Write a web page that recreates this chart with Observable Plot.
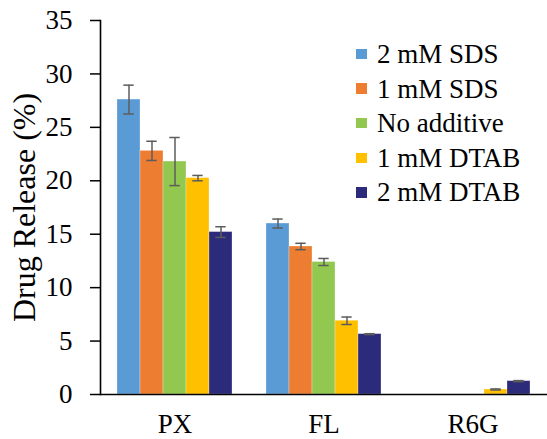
<!DOCTYPE html>
<html>
<head>
<meta charset="utf-8">
<script src="https://cdn.jsdelivr.net/npm/d3@7"></script>
<script src="https://cdn.jsdelivr.net/npm/@observablehq/plot@0.6"></script>
<style>
  body { margin: 0; background: #fff; }
  #wrap { position: relative; width: 547px; height: 439px; font-family: "Liberation Serif", Tinos, "DejaVu Serif", serif; }
  #chart svg { display: block; }
  #chart svg text { font-family: "Liberation Serif", Tinos, "DejaVu Serif", serif; }
  g[aria-label="y-axis label"] text { font-size: 32px; }
  .legend { position: absolute; left: 356px; top: 0; }
  .row { position: absolute; left: 0; height: 30px; line-height: 30px; display: flex; align-items: center; white-space: nowrap; font-size: 27px; color: #000; }
  .sw { width: 10.5px; height: 10.5px; margin-right: 10.5px; flex: none; }
</style>
</head>
<body>
<div id="wrap">
  <div id="chart"></div>
  <div class="legend" id="legend"></div>
</div>
<script>
// ---- data ----
const categories = ["PX", "FL", "R6G"];
const series = ["2 mM SDS", "1 mM SDS", "No additive", "1 mM DTAB", "2 mM DTAB"];
const colors = ["#5B9BD5", "#ED7D31", "#92C84F", "#FFC000", "#2B2A7B"];

const sds2 = [27.6, 16.0, 0];
const sds1 = [22.8, 13.85, 0];
const noAdditive = [21.8, 12.4, 0];
const dtab1 = [20.25, 6.9, 0.47];
const dtab2 = [15.2, 5.65, 1.25];

const sds2Err = [1.35, 0.42, 0];
const sds1Err = [0.9, 0.3, 0];
const noAdditiveErr = [2.25, 0.33, 0];
const dtab1Err = [0.25, 0.35, 0.05];
const dtab2Err = [0.5, 0.04, 0.05];

const yTicks = [0, 5, 10, 15, 20, 25, 30, 35];
const yTitle = "Drug Release (%)";

// ---- table ----
const values = [sds2, sds1, noAdditive, dtab1, dtab2];
const errors = [sds2Err, sds1Err, noAdditiveErr, dtab1Err, dtab2Err];
const rows = [];
categories.forEach((c, i) => series.forEach((s, j) => rows.push({category: c, series: s, value: values[j][i], error: errors[j][i]})));
const errRows = rows.filter(d => d.error > 0);

const font = "'Liberation Serif', Tinos, 'DejaVu Serif', serif";
const errColor = "#5c5c5c";

const chart = Plot.plot({
  width: 547,
  height: 439,
  marginLeft: 100,
  marginRight: 0,
  marginTop: 20,
  marginBottom: 45,
  style: {fontFamily: font, background: "white", color: "black"},
  fx: {domain: categories, paddingInner: 0, paddingOuter: 0},
  x: {domain: series, paddingInner: 0, paddingOuter: 0.725, axis: null},
  y: {domain: [0, 35]},
  color: {domain: series, range: colors},
  marks: [
    Plot.barY(rows, {fx: "category", x: "series", y: "value", fill: "series", stroke: "white", strokeOpacity: 0.35, strokeWidth: 0.8}),
    Plot.ruleX(errRows, {fx: "category", x: "series", y1: d => d.value - d.error, y2: d => d.value + d.error, stroke: errColor, strokeWidth: 1.5}),
    Plot.tickY(errRows, {fx: "category", x: "series", y: d => d.value - d.error, insetLeft: 6.3, insetRight: 6.3, stroke: errColor, strokeWidth: 1.5}),
    Plot.tickY(errRows, {fx: "category", x: "series", y: d => d.value + d.error, insetLeft: 6.3, insetRight: 6.3, stroke: errColor, strokeWidth: 1.5}),
    Plot.ruleY([0], {stroke: "black", strokeWidth: 1.6}),
    Plot.frame({anchor: "left", facetAnchor: "left", stroke: "black", strokeWidth: 1.6}),
    Plot.axisY({ticks: yTicks, tickSize: 10, tickPadding: 18, fontSize: 27, strokeWidth: 1.5, label: yTitle, labelAnchor: "center", labelOffset: 88, labelArrow: "none"}),
    Plot.axisFx({anchor: "bottom", tickSize: 0, tickPadding: 19, fontSize: 27, label: null})
  ]
});
document.getElementById("chart").appendChild(chart);

// ---- legend ----
const legend = document.getElementById("legend");
const rowCenters = [54, 88.6, 123.2, 157.8, 192.4];
series.forEach((s, i) => {
  const r = document.createElement("div");
  r.className = "row";
  r.style.top = (rowCenters[i] - 15) + "px";
  const sw = document.createElement("span");
  sw.className = "sw";
  sw.style.background = colors[i];
  const t = document.createElement("span");
  t.textContent = s;
  r.appendChild(sw);
  r.appendChild(t);
  legend.appendChild(r);
});
</script>
</body>
</html>
